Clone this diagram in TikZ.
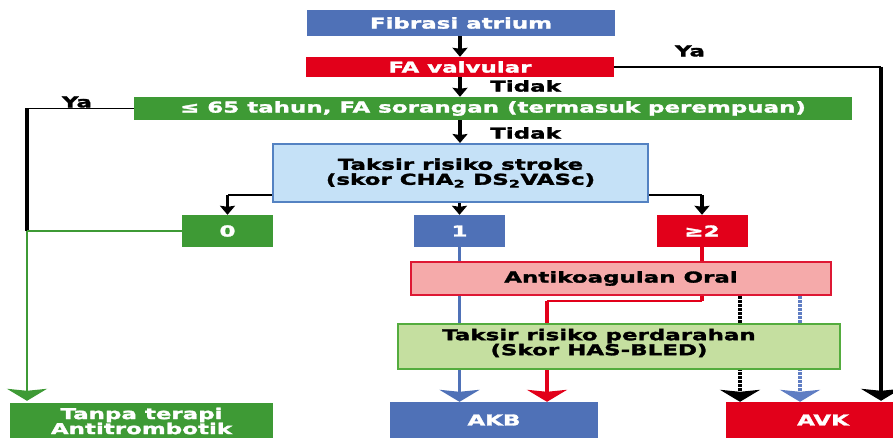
\documentclass[tikz,border=0pt]{standalone}
\usepackage{fontspec}
\setmainfont[FakeStretch=1.53,FakeBold=2]{DejaVu Sans}
\usetikzlibrary{arrows.meta,backgrounds}
\definecolor{cBlue}{RGB}{79,113,183}
\definecolor{cRed}{RGB}{226,0,26}
\definecolor{cGreen}{RGB}{62,154,53}
\definecolor{cLBlue}{RGB}{197,225,247}
\definecolor{cLBlueB}{RGB}{84,130,194}
\definecolor{cPink}{RGB}{245,170,170}
\definecolor{cPinkB}{RGB}{222,24,52}
\definecolor{cLGreen}{RGB}{197,223,160}
\definecolor{cLGreenB}{RGB}{84,172,62}
\definecolor{cDotBlue}{RGB}{95,125,195}
\begin{document}
\begin{tikzpicture}[x=1pt,y=-1pt,
  txt/.style={inner sep=0pt,align=center,font=\fontsize{15}{15}\selectfont\bfseries},
  box/.style={txt,rectangle},
  solidbox/.style={box,fill=#1,text=white},
  lightbox/.style={box,fill=#1,line width=2pt},
  lbl/.style={txt},
  vthick/.style={line width=3.3pt},
  hthin/.style={line width=1.4pt},
  dotpat/.style={dash pattern=on 2.5pt off 1.5pt},
  bigtip/.tip={Stealth[width=40pt,length=12pt,inset=2pt]},
  smalltip/.tip={Stealth[width=15pt,length=9pt,inset=1pt]}
]
\useasboundingbox (0,0) rectangle (893,438);

\node[solidbox=cBlue,minimum width=308pt,minimum height=26pt] (fib) at (461,23) {Fibrasi atrium};
\node[solidbox=cRed,minimum width=308pt,minimum height=20pt] (valv) at (460,67) {FA valvular};
\node[solidbox=cGreen,minimum width=718pt,minimum height=23pt] (age) at (493,108.5) {≤ 65 tahun, FA sorangan (termasuk perempuan)};
\node[lightbox=cLBlue,draw=cLBlueB,minimum width=375pt,minimum height=58pt] (stroke) at (460.5,173) {Taksir risiko stroke\\(skor CHA\textsubscript{2} DS\textsubscript{2}VASc)};
\node[solidbox=cGreen,minimum width=91pt,minimum height=32pt] (s0) at (227.5,231) {0};
\node[solidbox=cBlue,minimum width=91pt,minimum height=32pt] (s1) at (459.5,231) {1};
\node[solidbox=cRed,minimum width=91pt,minimum height=32pt] (s2) at (702,231) {≥2};
\node[lightbox=cPink,draw=cPinkB,minimum width=420pt,minimum height=33pt] (oac) at (621,278.5) {Antikoagulan Oral};
\node[lightbox=cLGreen,draw=cLGreenB,minimum width=442pt,minimum height=45pt] (bleed) at (619,346.5) {};
\node[txt] (bleedtxt) at (599,343) {Taksir risiko perdarahan\\(Skor HAS-BLED)};
\node[solidbox=cBlue,minimum width=208pt,minimum height=36pt] (akb) at (494,420) {AKB};
\node[solidbox=cRed,minimum width=194pt,minimum height=36pt] (avk) at (823,420) {AVK};
\node[solidbox=cGreen,minimum width=263pt,minimum height=36pt] (tanpa) at (141.5,421) {Tanpa terapi\\Antitrombotik};

\node[lbl,anchor=west] (t1) at (490,86) {Tidak};
\node[lbl,anchor=west] (t2) at (490,133) {Tidak};
\node[lbl] (ya1) at (690,51) {Ya};
\node[lbl] (ya2) at (77,102) {Ya};

\coordinate (rc) at (881,67);
\coordinate (lc) at (27,108.5);
\coordinate (j0) at (lc |- s0.west);
\coordinate (sl) at ([yshift=8pt]stroke.south west);
\coordinate (sr) at ([yshift=8pt]stroke.south east);
\coordinate (re) at (547,301);
\coordinate (dk) at (740,300);
\coordinate (db) at (800,300);

\begin{pgfonlayer}{background}
\fill[white] (0,0) rectangle (893,438);
\draw[vthick,-smalltip] (valv.north |- fib.south) -- (valv.north);
\draw[vthick,-smalltip] (valv.south) -- (valv.south |- age.north);
\draw[vthick,-smalltip] (valv.south |- age.south) -- (valv.south |- stroke.north);
\draw[hthin] (valv.east) -- (rc);
\draw[vthick,-bigtip,shorten >=1pt] (rc) -- (rc |- avk.north);
\draw[hthin] (age.west) -- (lc);
\draw[vthick] (lc) -- (j0);
\draw[hthin,cGreen] (s0.west) -- (j0);
\draw[line width=2.6pt,cGreen,-bigtip,shorten >=2pt] (j0) -- (j0 |- tanpa.north);
\draw[hthin] (sl) -- (sl -| s0.north);
\draw[vthick,-smalltip] (sl -| s0.north) -- (s0.north);
\draw[vthick,-smalltip] (stroke.south -| s1.north) -- (s1.north);
\draw[hthin] (sr) -- (sr -| s2.north);
\draw[vthick,-smalltip] (sr -| s2.north) -- (s2.north);
\draw[vthick,cBlue,-bigtip] (s1.south) -- (s1.south |- akb.north);
\draw[vthick,cRed] (s2.south) -- (s2.south |- oac.north);
\draw[vthick,cRed] (s2.south |- oac.south) -- (s2.south |- re);
\draw[line width=1.2pt,cRed] (s2.south |- re) -- (re);
\draw[vthick,cRed,-bigtip] (re) -- (re |- akb.north);
\draw[vthick,dotpat,-bigtip] (dk |- oac.south) -- (dk |- avk.north);
\draw[vthick,dotpat,cDotBlue,-bigtip] (db |- oac.south) -- (db |- avk.north);
\end{pgfonlayer}
\end{tikzpicture}
\end{document}
